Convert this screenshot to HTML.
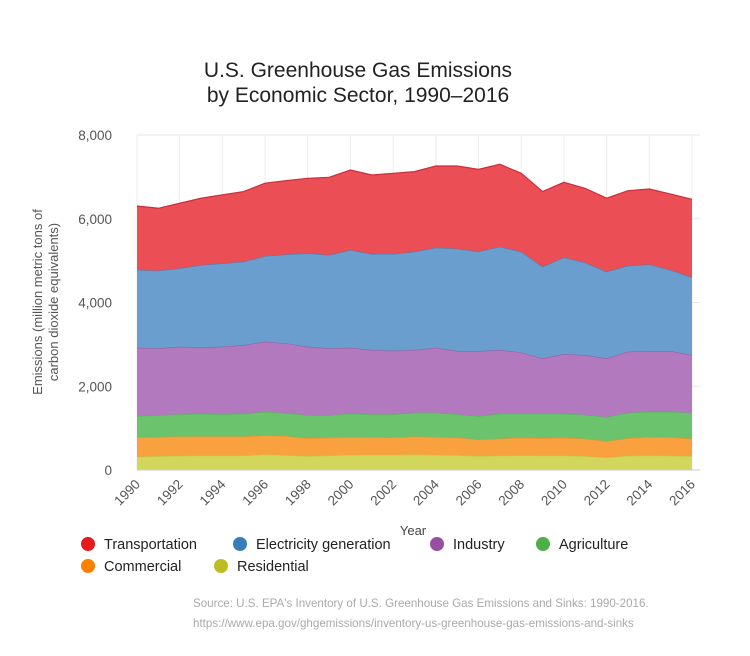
<!DOCTYPE html>
<html><head><meta charset="utf-8"><style>
body{margin:0;background:#fff;width:750px;height:651px;overflow:hidden;font-family:"Liberation Sans",sans-serif}
</style></head><body>
<svg id="chart" width="750" height="651" xmlns="http://www.w3.org/2000/svg" font-family="Liberation Sans, sans-serif">
<text x="358" y="77" text-anchor="middle" font-size="21" fill="#222">U.S. Greenhouse Gas Emissions</text>
<text x="358" y="102" text-anchor="middle" font-size="21" fill="#222">by Economic Sector, 1990–2016</text>
<g id="grid"></g>
<g id="areas"></g>
<g id="axes"></g>
<text transform="translate(42,302) rotate(-90)" text-anchor="middle" font-size="13" fill="#555">Emissions (million metric tons of</text>
<text transform="translate(58,302) rotate(-90)" text-anchor="middle" font-size="13" fill="#555">carbon dioxide equivalents)</text>
<text x="413" y="535" text-anchor="middle" font-size="13" fill="#444">Year</text>
<g id="legend"></g>
<text x="193" y="607" font-size="11.6" fill="#aaa">Source: U.S. EPA's Inventory of U.S. Greenhouse Gas Emissions and Sinks: 1990-2016.</text>
<text x="193" y="627" font-size="11.6" fill="#aaa">https://www.epa.gov/ghgemissions/inventory-us-greenhouse-gas-emissions-and-sinks</text>
</svg>
<script>
const years=[1990,1991,1992,1993,1994,1995,1996,1997,1998,1999,2000,2001,2002,2003,2004,2005,2006,2007,2008,2009,2010,2011,2012,2013,2014,2015,2016];
const residential=[320,330,340,345,345,345,370,355,330,345,365,360,360,370,360,355,330,345,350,345,345,330,300,340,350,340,330];
const commercial=[460,460,460,455,455,455,460,455,430,425,425,420,420,430,430,415,400,405,420,415,425,420,390,420,440,440,420];
const agriculture=[510,520,530,545,530,545,560,550,550,540,555,550,550,570,580,560,560,595,575,585,575,570,575,610,600,610,610];
const industry=[1631,1595,1615,1584,1615,1640,1675,1665,1635,1595,1576,1536,1520,1496,1551,1512,1552,1521,1465,1321,1425,1426,1401,1456,1452,1452,1386];
const electricity=[1855,1855,1871,1967,1990,1990,2045,2125,2230,2230,2333,2292,2308,2348,2389,2444,2372,2467,2404,2190,2309,2205,2070,2054,2069,1934,1855];
const transportation=[1529,1490,1554,1594,1635,1675,1740,1760,1790,1855,1911,1887,1927,1911,1950,1974,1966,1967,1871,1794,1791,1774,1754,1790,1799,1814,1864];
const yTicks=[0,2000,4000,6000,8000];
const yTickLabels=["0","2,000","4,000","6,000","8,000"];
const seriesNames=["Residential","Commercial","Agriculture","Industry","Electricity generation","Transportation"];
const NS="http://www.w3.org/2000/svg";
const X0=137,X1=692,Y0=470,Y1=135;
const xs=y=>X0+(y-years[0])/(years[years.length-1]-years[0])*(X1-X0);
const ys=v=>Y0-v/8000*(Y0-Y1);
function mk(t,a,p){const e=document.createElementNS(NS,t);for(const k in a)e.setAttribute(k,a[k]);p.appendChild(e);return e;}
const grid=document.getElementById('grid');
yTicks.forEach((t,i)=>{
 const l=mk('line',{x1:X0,x2:X1+8,y1:ys(t),y2:ys(t),stroke:'#e6e6e6'},grid);
 
 
 const tx=mk('text',{x:112,y:ys(t)+5,'text-anchor':'end','font-size':13.5,fill:'#555'},grid);
 tx.textContent=yTickLabels[i];
 
 
});
years.forEach(y=>{
 if(y%2)return;
 const l=mk('line',{x1:xs(y),x2:xs(y),y1:Y1,y2:Y0,stroke:'#ececec'},grid);
 
 
});
const series=[residential,commercial,agriculture,industry,electricity,transportation];
const fills=['#d3d65c','#f9a03f','#6cc36e','#b279bf','#6a9ecf','#eb4e55'];
const strokes=['#c4c64a','#ef9030','#5cb05e','#9a5fa6','#5580b0','#c9303a'];
const areas=document.getElementById('areas');
let base=years.map(()=>0);
series.forEach((s,si)=>{
 const top=base.map((b,i)=>b+s[i]);
 let d='M'+years.map((y,i)=>xs(y)+','+ys(top[i])).join('L');
 for(let i=years.length-1;i>=0;i--)d+='L'+xs(years[i])+','+ys(base[i]);
 d+='Z';
 const p=mk('path',{d:d,fill:fills[si]},areas);
 
 
 const ln=mk('polyline',{points:years.map((y,i)=>xs(y)+','+ys(top[i])).join(' '),fill:'none',stroke:strokes[si],'stroke-width':1.2},areas);
 
 
 base=top;
});
const axes=document.getElementById('axes');
const ax=mk('line',{x1:X0,x2:X1+8,y1:Y0,y2:Y0,stroke:'#ccc'},axes);


years.forEach(y=>{
 if(y%2)return;
 const t=mk('text',{transform:'translate('+(xs(y)+4)+','+(Y0+15)+') rotate(-45)','text-anchor':'end','font-size':13.5,fill:'#555'},axes);
 t.textContent=y;
 
 
});
const legend=document.getElementById('legend');
const legItems=[["Transportation",'#e41a1c',88,544],["Electricity generation",'#377eb8',240,544],["Industry",'#984ea3',437,544],["Agriculture",'#4daf4a',543,544],["Commercial",'#ff7f00',88,566],["Residential",'#bcbd22',221,566]];
legItems.forEach(it=>{
 const g=mk('g',{},legend);
 
 
 mk('circle',{cx:it[2],cy:it[3],r:7,fill:it[1]},g);
 const t=mk('text',{x:it[2]+16,y:it[3]+5,'font-size':14.5,fill:'#222'},g);
 t.textContent=it[0];
});
</script>
</body></html>
